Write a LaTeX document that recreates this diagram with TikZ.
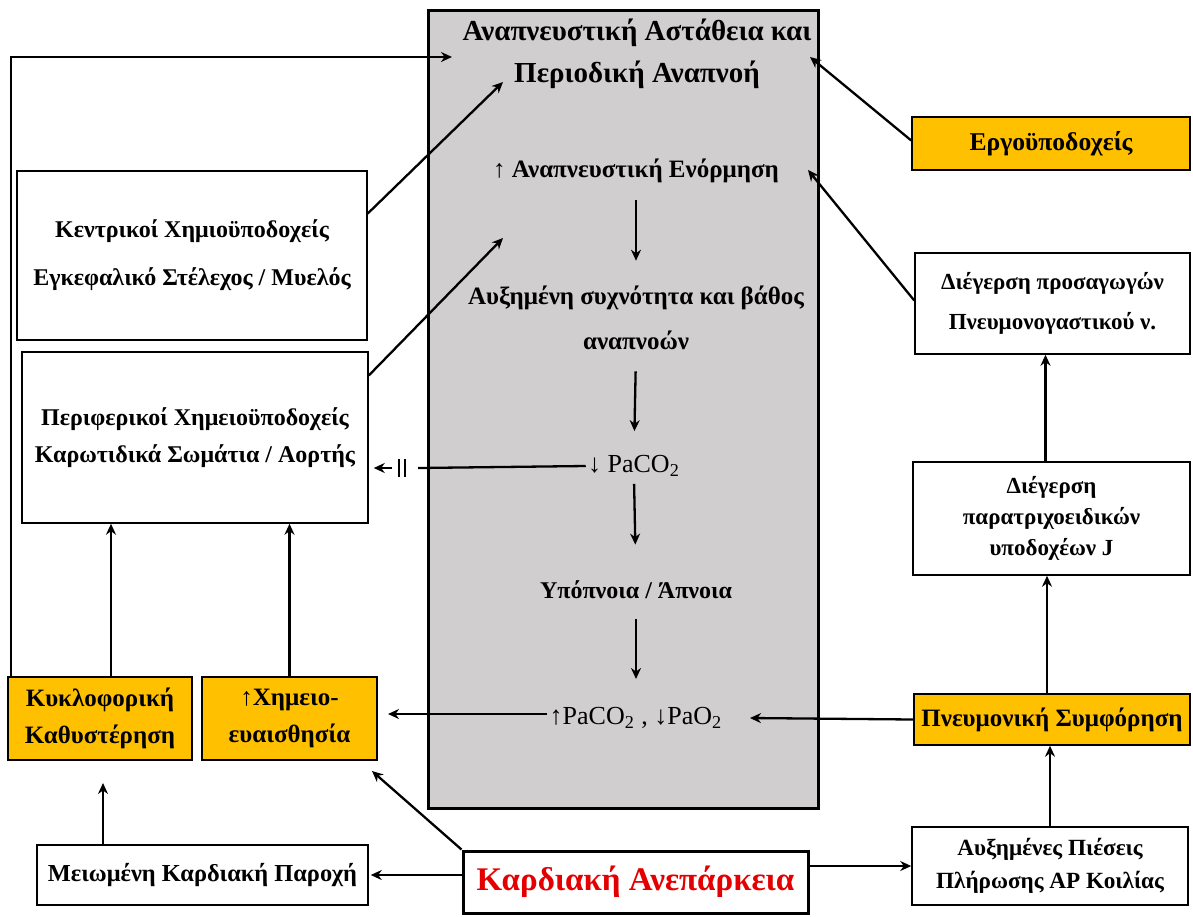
\documentclass[tikz,border=0pt]{standalone}
\usepackage{fontspec}
\setmainfont{Liberation Serif}
\usetikzlibrary{arrows.meta,calc}
\definecolor{orng}{RGB}{255,192,0}
\definecolor{grayfill}{RGB}{208,206,206}
\definecolor{redtxt}{RGB}{228,0,0}
\begin{document}
\begin{tikzpicture}[x=0.5pt,y=-0.5pt,
 box/.style={draw,line width=0.75pt,inner sep=0pt,align=center,font=\bfseries\fontsize{12}{24}\selectfont},
 obox/.style={box,fill=orng,font=\bfseries\fontsize{12.5}{18.5}\selectfont},
 txt/.style={inner sep=1pt,align=center,font=\bfseries\fontsize{12.5}{22.5}\selectfont},
 rtxt/.style={inner sep=1pt,align=center,font=\fontsize{13}{16}\selectfont},
 arr/.style={line width=1.15pt,-{Stealth[length=5.5pt,width=5pt]}},
 ln/.style={line width=1.15pt}]
\fill[white] (0,0) rectangle (1193,916);
\useasboundingbox (0,0) rectangle (1193,916);

% central grey box
\node[draw,line width=1.5pt,fill=grayfill,minimum width=195pt,minimum height=399pt,inner sep=0pt] (cbox) at (623,409) {};
\node[txt,font=\bfseries\fontsize{14.5}{21}\selectfont] (t1) at (637,54) {Αναπνευστική Αστάθεια και\\Περιοδική Αναπνοή};
\node[txt] (t2) at (636,171) {{\mdseries ↑} Αναπνευστική Ενόρμηση};
\node[txt] (t3) at (636,318) {Αυξημένη συχνότητα και βάθος\\αναπνοών};
\node[rtxt] (t4) at (634,466) {↓ PaCO\textsubscript{2}};
\node[txt,font=\bfseries\fontsize{12}{16}\selectfont] (t5) at (636,590) {Υπόπνοια / Άπνοια};
\node[rtxt] (t6) at (636,718) {↑PaCO\textsubscript{2} , ↓PaO\textsubscript{2}};

% left boxes
\node[box,minimum width=175pt,minimum height=84.5pt] (kc) at (192,255.5) {Κεντρικοί Χημιοϋποδοχείς\\Εγκεφαλικό Στέλεχος / Μυελός};
\node[box,minimum width=173pt,minimum height=85.5pt,font=\bfseries\fontsize{12}{18.5}\selectfont] (per) at (195,437.5) {Περιφερικοί Χημειοϋποδοχείς\\Καρωτιδικά Σωμάτια / Αορτής};
\node[obox,minimum width=92pt,minimum height=41.5pt] (kyk) at (100,718.5) {Κυκλοφορική\\Καθυστέρηση};
\node[obox,minimum width=87.5pt,minimum height=41.5pt] (xim) at (289.5,718.5) {↑Χημειο-\\ευαισθησία};
\node[box,minimum width=165.5pt,minimum height=30pt,font=\bfseries\fontsize{12.2}{16}\selectfont] (mei) at (202.5,875) {Μειωμένη Καρδιακή Παροχή};
\node[box,line width=1.5pt,minimum width=172.5pt,minimum height=31pt,text=redtxt,font=\bfseries\fontsize{16.5}{20}\selectfont] (kard) at (635.5,882) {Καρδιακή Ανεπάρκεια};

% right boxes
\node[obox,minimum width=139pt,minimum height=26.5pt,font=\bfseries\fontsize{12.8}{16}\selectfont] (ergo) at (1051,143.5) {Εργοϋποδοχείς};
\node[box,minimum width=137.5pt,minimum height=50.5pt,font=\bfseries\fontsize{11.5}{20}\selectfont] (dieg) at (1052.5,303.5) {Διέγερση προσαγωγών\\Πνευμονογαστικού ν.};
\node[box,minimum width=138.5pt,minimum height=56.5pt,font=\bfseries\fontsize{11.5}{15.5}\selectfont] (parat) at (1051.5,518.5) {Διέγερση\\παρατριχοειδικών\\υποδοχέων J};
\node[obox,minimum width=138pt,minimum height=25.5pt] (pneu) at (1052,719.5) {Πνευμονική Συμφόρηση};
\node[box,minimum width=138pt,minimum height=39pt,font=\bfseries\fontsize{11.6}{16.5}\selectfont] (auxp) at (1050,866) {Αυξημένες Πιέσεις\\Πλήρωσης ΑΡ Κοιλίας};

% free ends
\coordinate (pA) at (452,57);
\coordinate (pB) at (503,82);
\coordinate (pC) at (503,238);
\coordinate (pD) at (810,57);
\coordinate (pE) at (808,170);
\coordinate (pF) at (750,718);
\coordinate (pG) at (388,714);
\coordinate (pH) at (372,771);
\coordinate (pI) at (103,783);
\coordinate (pJ) at (418,468);
\coordinate (pK) at (392,468);

% central chain
\draw[arr,shorten <=7.5pt,shorten >=11.5pt] (t2.south) -- (t3.north);
\draw[arr,shorten <=9.5pt,shorten >=11pt] (t3.south) -- (t4.north);
\draw[arr,shorten <=2.5pt,shorten >=17pt] (t4.south) -- (t5.north);
\draw[arr,shorten <=9pt,shorten >=13pt] (t5.south) -- (t6.north);

% left connectors
\draw[arr] ([xshift=2pt]kyk.north west) |- (pA);
\draw[arr] ([xshift=5.5pt]kyk.north) -- ([xshift=5.5pt]kyk.north |- per.south);
\draw[arr] (xim.north) -- (xim.north |- per.south);
\draw[arr] ([yshift=21pt]kc.east) -- (pB);
\draw[arr] ([yshift=31pt]per.east) -- (pC);
\draw[ln] (t4.west) -- (pJ);
\draw[line width=0.8pt] (399,459) -- (399,477) (405,459) -- (405,477);
\draw[arr] (pK) -- ([xshift=2.5pt]per.east |- pK);
\draw[arr] (t6.west |- pG) -- (pG);
\draw[arr] (mei.north -| pI) -- (pI);
\draw[arr] (kard.west |- mei.east) -- ([xshift=1pt]mei.east);
\draw[arr] (kard.north west) -- (pH);

% right connectors
\draw[arr] (kard.east |- auxp.west) -- (auxp.west);
\draw[arr] (auxp.north) -- (auxp.north |- pneu.south);
\draw[arr] (pneu.west) -- (pF);
\draw[arr] ([xshift=-2.5pt]pneu.north) -- ([xshift=-2.5pt]pneu.north |- parat.south);
\draw[arr] ([xshift=-3pt]parat.north) -- ([xshift=-3pt]parat.north |- dieg.south);
\draw[arr] ([yshift=1.5pt]dieg.west) -- (pE);
\draw[arr] ([yshift=1.5pt]ergo.west) -- (pD);
\end{tikzpicture}
\end{document}
